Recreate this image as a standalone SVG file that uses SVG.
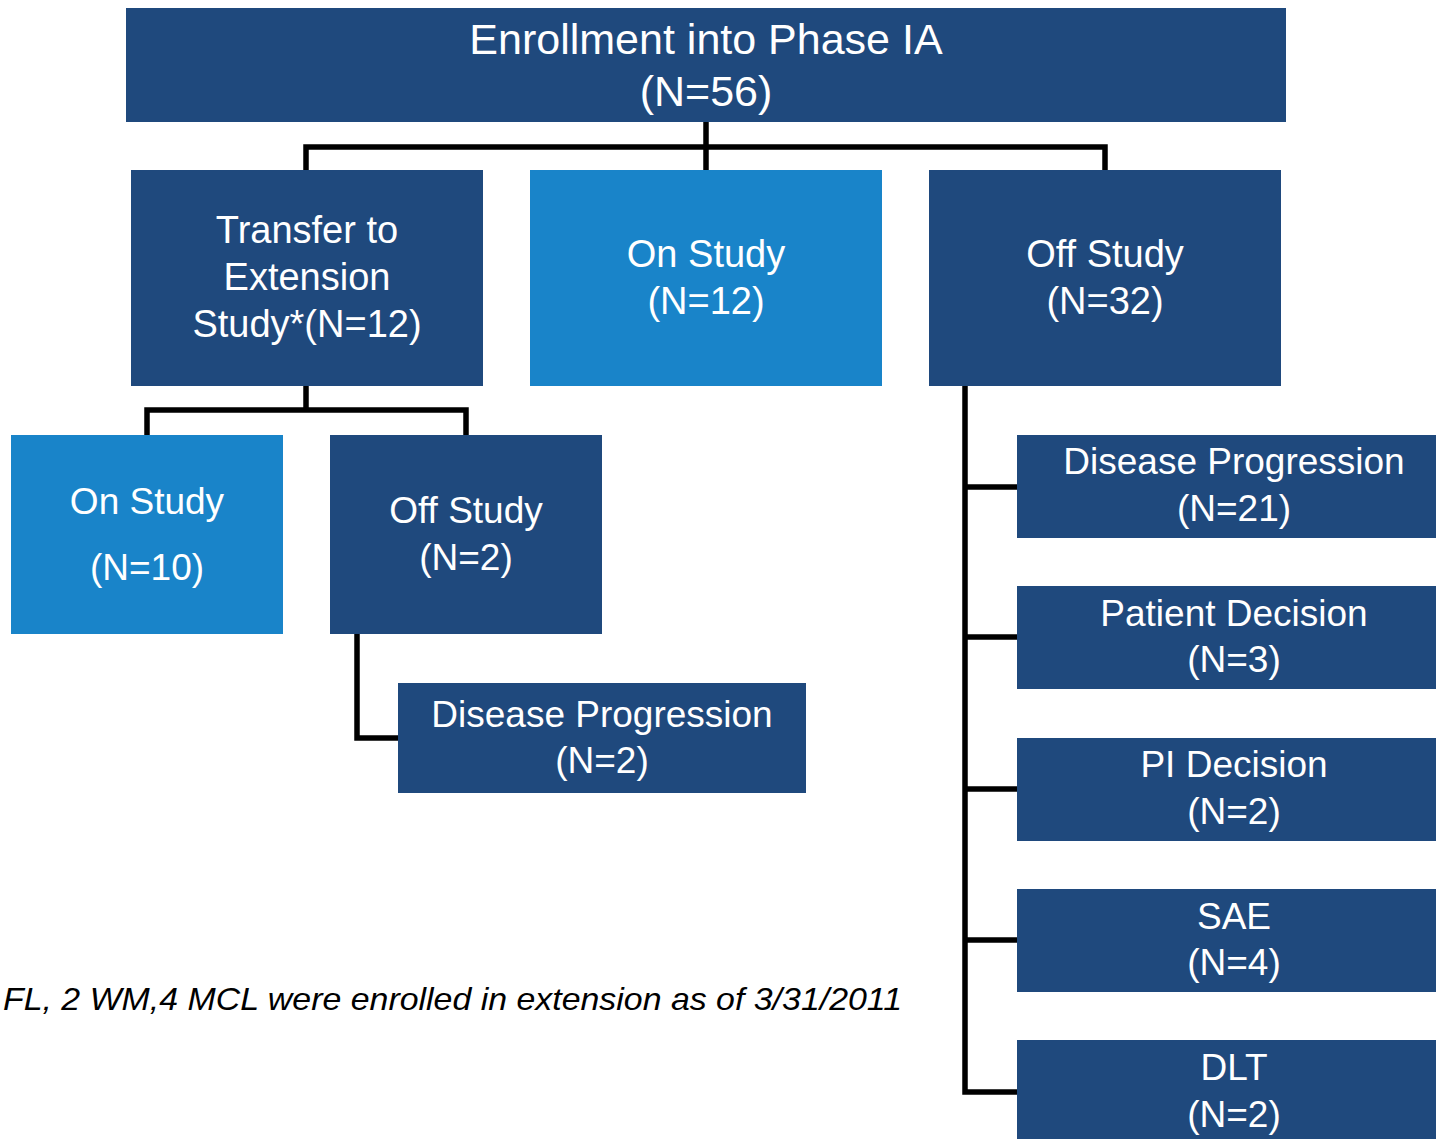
<svg xmlns="http://www.w3.org/2000/svg" width="1436" height="1139" viewBox="0 0 1436 1139">
<style>
.dark{fill:#1F497D}
.light{fill:#1984C9}
.t{font-family:"Liberation Sans",Arial,sans-serif;fill:#fff;text-anchor:middle;font-size:37px}
.big{font-size:43px}
.mid{font-size:38px}
.conn{fill:none;stroke:#000;stroke-width:5.5;stroke-linejoin:miter}
.note{font-family:"Liberation Sans",Arial,sans-serif;font-style:italic;font-size:32px;fill:#000}
</style>
<rect width="1436" height="1139" fill="#fff"/>
<g id="connectors">
<path class="conn" d="M706 122V147M306 170V147H1105V170M706 147V170"/>
<path class="conn" d="M306 386V410M147 435V410H466V435"/>
<path class="conn" d="M357 634V738H398"/>
<path class="conn" d="M965 386V1092H1017M965 487H1017M965 637H1017M965 789H1017M965 940H1017"/>
</g>
<g id="enroll">
<rect class="dark" x="126" y="8" width="1160" height="114"/>
<text class="t big" x="706" y="54">Enrollment into Phase IA</text>
<text class="t big" x="706" y="106">(N=56)</text>
</g>
<g id="transfer">
<rect class="dark" x="131" y="170" width="352" height="216"/>
<text class="t mid" x="307" y="243">Transfer to</text>
<text class="t mid" x="307" y="290">Extension</text>
<text class="t mid" x="307" y="337">Study*(N=12)</text>
</g>
<g id="onstudy1">
<rect class="light" x="530" y="170" width="352" height="216"/>
<text class="t mid" x="706" y="267">On Study</text>
<text class="t mid" x="706" y="314">(N=12)</text>
</g>
<g id="offstudy1">
<rect class="dark" x="929" y="170" width="352" height="216"/>
<text class="t mid" x="1105" y="267">Off Study</text>
<text class="t mid" x="1105" y="314">(N=32)</text>
</g>
<g id="onstudy2">
<rect class="light" x="11" y="435" width="272" height="199"/>
<text class="t" x="147" y="514">On Study</text>
<text class="t" x="147" y="580">(N=10)</text>
</g>
<g id="offstudy2">
<rect class="dark" x="330" y="435" width="272" height="199"/>
<text class="t" x="466" y="523">Off Study</text>
<text class="t" x="466" y="570">(N=2)</text>
</g>
<g id="dp2">
<rect class="dark" x="398" y="683" width="408" height="110"/>
<text class="t" x="602" y="727">Disease Progression</text>
<text class="t" x="602" y="773">(N=2)</text>
</g>
<g id="dp21">
<rect class="dark" x="1017" y="435" width="434" height="103"/>
<text class="t" x="1234" y="474">Disease Progression</text>
<text class="t" x="1234" y="521">(N=21)</text>
</g>
<g id="patient">
<rect class="dark" x="1017" y="586" width="434" height="103"/>
<text class="t" x="1234" y="626">Patient Decision</text>
<text class="t" x="1234" y="672">(N=3)</text>
</g>
<g id="pi">
<rect class="dark" x="1017" y="738" width="434" height="103"/>
<text class="t" x="1234" y="777">PI Decision</text>
<text class="t" x="1234" y="824">(N=2)</text>
</g>
<g id="sae">
<rect class="dark" x="1017" y="889" width="434" height="103"/>
<text class="t" x="1234" y="929">SAE</text>
<text class="t" x="1234" y="975">(N=4)</text>
</g>
<g id="dlt">
<rect class="dark" x="1017" y="1040" width="434" height="110"/>
<text class="t" x="1234" y="1080">DLT</text>
<text class="t" x="1234" y="1127">(N=2)</text>
</g>
<text class="note" x="3" y="1010" textLength="899" lengthAdjust="spacingAndGlyphs">FL, 2 WM,4 MCL were enrolled in extension as of 3/31/2011</text>
</svg>
